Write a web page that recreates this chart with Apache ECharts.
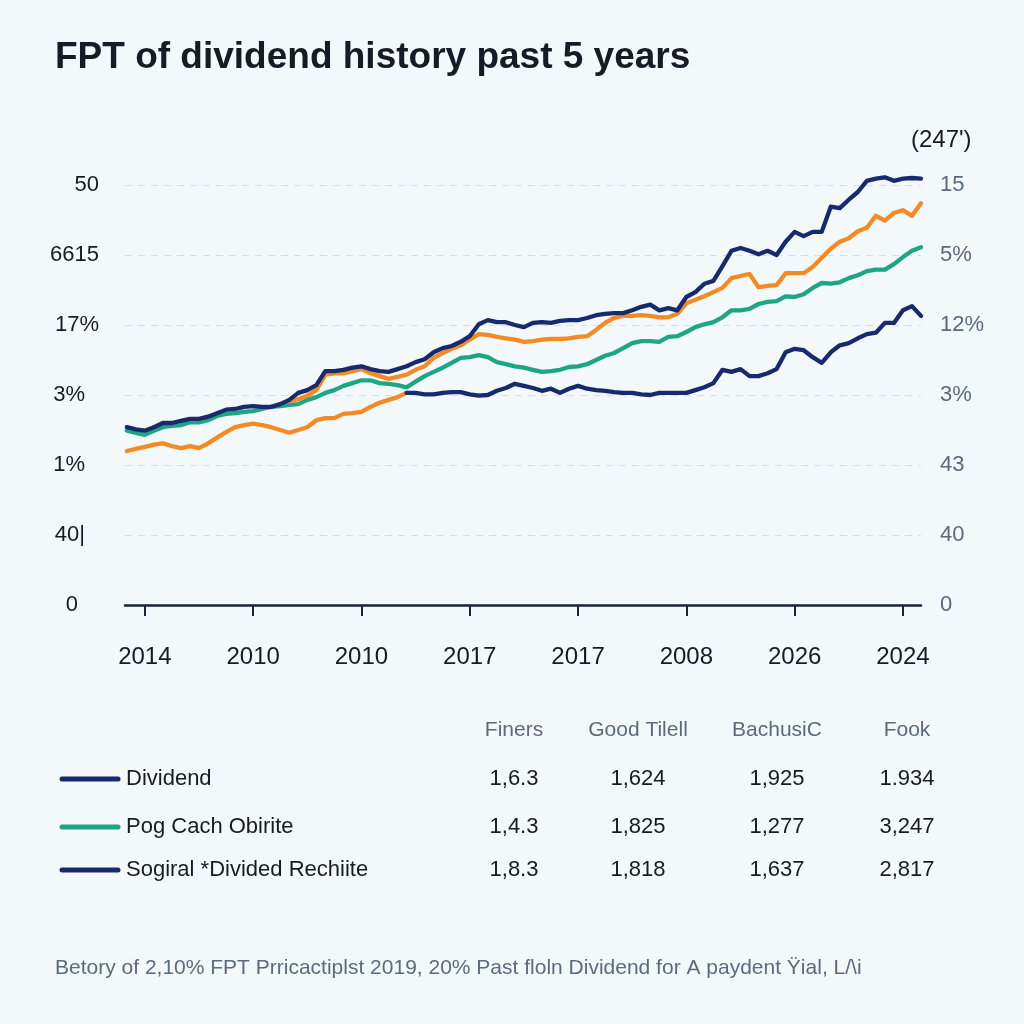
<!DOCTYPE html>
<html><head><meta charset="utf-8">
<script src="https://cdn.jsdelivr.net/npm/echarts@6/dist/echarts.min.js"></script>
<style>html,body{margin:0;padding:0;background:#f3f8fb}#c{width:1024px;height:1024px}</style>
</head><body><div id="c"></div>
<script>
// ---- data ----
const chartTitle = 'FPT of dividend history past 5 years';
const rightAxisNote = "(247')";
const xTickMonths = [2, 14, 26, 38, 50, 62, 74, 86];
const xTickLabels = ['2014', '2010', '2010', '2017', '2017', '2008', '2026', '2024'];
const leftLabels = ['0', '40|', '1%', '3%', '17%', '6615', '50'];
const rightLabels = ['0', '40', '43', '3%', '12%', '5%', '15'];

const dividendTop = [2.54,2.51,2.49,2.54,2.60,2.60,2.63,2.66,2.66,2.69,
  2.74,2.79,2.80,2.83,2.84,2.83,2.83,2.87,2.93,3.03,
  3.07,3.14,3.34,3.34,3.36,3.39,3.41,3.37,3.34,3.33,
  3.37,3.41,3.47,3.51,3.61,3.67,3.70,3.76,3.84,4.01,
  4.07,4.04,4.04,4.00,3.97,4.03,4.04,4.03,4.06,4.07,
  4.07,4.10,4.14,4.16,4.17,4.17,4.21,4.26,4.29,4.21,
  4.24,4.21,4.40,4.47,4.59,4.63,4.84,5.06,5.10,5.06,
  5.01,5.06,5.00,5.19,5.33,5.27,5.33,5.33,5.69,5.67,
  5.79,5.90,6.06,6.09,6.11,6.06,6.09,6.10,6.09];

const greenLine = [2.49,2.46,2.43,2.49,2.54,2.56,2.57,2.61,2.61,2.64,
  2.70,2.73,2.74,2.76,2.77,2.80,2.83,2.84,2.86,2.87,
  2.93,2.97,3.03,3.07,3.13,3.17,3.21,3.21,3.17,3.16,
  3.14,3.11,3.19,3.27,3.33,3.39,3.46,3.53,3.54,3.57,
  3.54,3.47,3.44,3.41,3.39,3.36,3.33,3.34,3.36,3.40,
  3.41,3.44,3.50,3.56,3.60,3.67,3.74,3.77,3.77,3.76,
  3.83,3.84,3.90,3.97,4.01,4.04,4.11,4.21,4.21,4.23,
  4.30,4.33,4.34,4.41,4.40,4.44,4.53,4.60,4.59,4.61,
  4.67,4.71,4.77,4.79,4.79,4.87,4.97,5.06,5.11];

const orangeUpperStart = 18;
const orangeUpper = [2.91,2.94,2.99,3.07,3.29,3.31,3.31,3.34,3.37,3.31,
  3.27,3.23,3.26,3.29,3.36,3.41,3.53,3.60,3.66,3.71,
  3.79,3.87,3.86,3.83,3.81,3.79,3.76,3.77,3.79,3.80,
  3.80,3.81,3.83,3.84,3.93,4.03,4.10,4.13,4.13,4.14,
  4.13,4.11,4.11,4.16,4.31,4.36,4.41,4.47,4.53,4.67,
  4.70,4.73,4.54,4.56,4.57,4.74,4.74,4.74,4.83,4.96,
  5.09,5.19,5.24,5.34,5.39,5.56,5.49,5.60,5.64,5.56,5.74];

const lowerLine = [2.20,2.23,2.26,2.29,2.31,2.27,2.24,2.27,2.24,2.31,
  2.39,2.47,2.54,2.57,2.59,2.57,2.54,2.50,2.46,2.50,
  2.54,2.64,2.67,2.67,2.73,2.74,2.76,2.83,2.89,2.93,
  2.97,3.03,3.03,3.01,3.01,3.03,3.04,3.04,3.01,2.99,
  3.00,3.06,3.10,3.16,3.13,3.10,3.06,3.09,3.03,3.09,
  3.13,3.09,3.07,3.06,3.04,3.03,3.03,3.01,3.00,3.03,
  3.03,3.03,3.03,3.07,3.11,3.17,3.36,3.33,3.37,3.27,
  3.27,3.31,3.37,3.61,3.66,3.64,3.54,3.46,3.61,3.71,
  3.74,3.81,3.87,3.89,4.03,4.03,4.21,4.27,4.13];
const lowerSwitchMonth = 31; // orange before, navy after

const tableColumns = ['Finers', 'Good Tilell', 'BachusiC', 'Fook'];
const tableRowNames = ['Dividend', 'Pog Cach Obirite', 'Sogiral *Divided Rechiite'];
const tableValues = [
  ['1,6.3', '1,624', '1,925', '1.934'],
  ['1,4.3', '1,825', '1,277', '3,247'],
  ['1,8.3', '1,818', '1,637', '2,817']
];
const footerText = 'Betory of 2,10% FPT Prricactiplst 2019, 20% Past floln Dividend for A paydent \u0178ial, L/\\i';

// ---- styles ----
const NAVY = '#172a6c', GREEN = '#1ea684', ORANGE = '#f28b26';
const DARK = '#161b26', GREY = '#5c6a7d';
const FONT = '"Liberation Sans", Arial, sans-serif';
const rowColors = [NAVY, GREEN, NAVY];

const toPairs = (arr, start) => arr.map((v, i) => [i + (start || 0), v]);
const lowerOrange = lowerLine.map((v, i) => [i, i <= lowerSwitchMonth ? v : null]);
const lowerNavy = lowerLine.map((v, i) => [i, i >= lowerSwitchMonth ? v : null]);

const lineSeries = (name, data, color) => ({
  name, type: 'line', data, showSymbol: false, symbol: 'none', clip: false,
  connectNulls: false, animation: false,
  lineStyle: { color, width: 4.3, cap: 'round', join: 'round' }, itemStyle: { color }
});

const chart = echarts.init(document.getElementById('c'), null, { renderer: 'canvas' });

const colX = [514, 638, 777, 907];
const rowY = [779, 827, 870];
const graphics = [
  { type: 'text', left: 55, top: 39, style: { text: chartTitle, font: 'bold 37px ' + FONT, fill: DARK } },
  { type: 'text', left: 911, top: 128, style: { text: rightAxisNote, font: '24px ' + FONT, fill: DARK } },
  { type: 'text', left: 55, top: 958, style: { text: footerText, font: '21px ' + FONT, fill: GREY } }
];
tableColumns.forEach((c, j) => graphics.push({ type: 'text', x: colX[j], y: 730,
  style: { text: c, font: '21px ' + FONT, fill: GREY, align: 'center', verticalAlign: 'middle' } }));
tableRowNames.forEach((n, r) => {
  graphics.push({ type: 'line', shape: { x1: 62, y1: rowY[r], x2: 118, y2: rowY[r] },
    style: { stroke: rowColors[r], lineWidth: 5, lineCap: 'round' } });
  graphics.push({ type: 'text', x: 126, y: rowY[r],
    style: { text: n, font: '22px ' + FONT, fill: DARK, verticalAlign: 'middle' } });
  tableValues[r].forEach((v, j) => graphics.push({ type: 'text', x: colX[j], y: rowY[r],
    style: { text: v, font: '22px ' + FONT, fill: DARK, align: 'center', verticalAlign: 'middle' } }));
});

chart.setOption({
  backgroundColor: '#f3f8fb',
  animation: false,
  grid: { left: 125, right: 103, top: 185, bottom: 419, containLabel: false },
  xAxis: {
    type: 'value', min: -0.2, max: 88,
    axisLine: { show: true, onZero: false, lineStyle: { color: '#1b2436', width: 2.5 } },
    axisTick: { show: true, customValues: xTickMonths, length: 11, lineStyle: { color: '#1b2436', width: 2 } },
    axisLabel: { customValues: xTickMonths, margin: 40, fontSize: 24, color: DARK, fontFamily: FONT,
      formatter: v => xTickLabels[xTickMonths.indexOf(v)] },
    splitLine: { show: false }
  },
  yAxis: [
    {
      type: 'value', min: 0, max: 6, interval: 1, position: 'left',
      axisLine: { show: false }, axisTick: { show: false },
      splitLine: { show: true, lineStyle: { color: '#d8dee5', type: [7, 6], width: 1.2 } },
      axisLabel: {
        margin: 26, fontFamily: FONT, fontSize: 22, color: DARK,
        formatter: v => '{' + (v >= 4 ? 'a' : (v === 0 ? 'c' : 'b')) + '|' + leftLabels[v] + '}',
        rich: {
          a: { fontSize: 22, color: DARK, fontFamily: FONT },
          b: { fontSize: 22, color: DARK, fontFamily: FONT, padding: [0, 14, 0, 0] },
          c: { fontSize: 22, color: DARK, fontFamily: FONT, padding: [0, 21, 0, 0] }
        }
      }
    },
    {
      type: 'value', min: 0, max: 6, interval: 1, position: 'right',
      axisLine: { show: false }, axisTick: { show: false }, splitLine: { show: false },
      axisLabel: { margin: 19, fontFamily: FONT, fontSize: 22, color: GREY, formatter: v => rightLabels[v] }
    }
  ],
  series: [
    lineSeries('Pog Cach Obirite', toPairs(greenLine), GREEN),
    lineSeries('Lower orange', lowerOrange, ORANGE),
    lineSeries('Upper orange', toPairs(orangeUpper, orangeUpperStart), ORANGE),
    lineSeries('Sogiral *Divided Rechiite', lowerNavy, NAVY),
    lineSeries('Dividend', toPairs(dividendTop), NAVY)
  ],
  graphic: graphics
});
</script></body></html>
